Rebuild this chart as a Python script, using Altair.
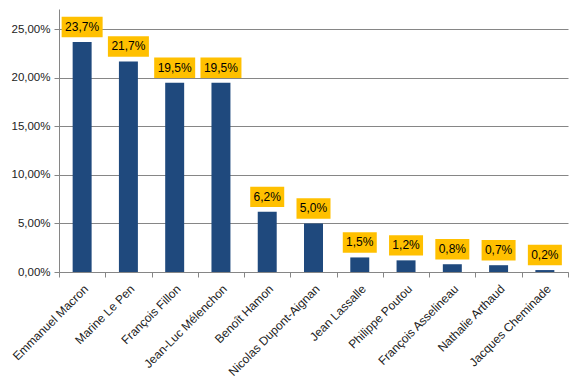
import altair as alt
import pandas as pd

candidates = ["Emmanuel Macron", "Marine Le Pen", "François Fillon", "Jean-Luc Mélenchon",
              "Benoît Hamon", "Nicolas Dupont-Aignan", "Jean Lassalle", "Philippe Poutou",
              "François Asselineau", "Nathalie Arthaud", "Jacques Cheminade"]
scores = [0.237, 0.217, 0.195, 0.195, 0.062, 0.050, 0.015, 0.012, 0.008, 0.007, 0.002]

df = pd.DataFrame({"name": candidates, "value": scores})

FONT = "Liberation Sans"
GRID = "#868686"

x = alt.X("name:N", sort=None, title=None,
          scale=alt.Scale(paddingInner=0, paddingOuter=0),
          axis=alt.Axis(labelAngle=-45, labelFont=FONT, labelFontSize=12, labelColor="#222",
                        tickBand="extent", tickSize=5, tickColor=GRID, domainColor=GRID,
                        labelPadding=6, labelLimit=300))
y = alt.Y("value:Q", title=None,
          scale=alt.Scale(domain=[0, 0.271], nice=False),
          axis=alt.Axis(values=[0, 0.05, 0.10, 0.15, 0.20, 0.25],
                        labelExpr="replace(format(datum.value, '.2%'), '.', ',')",
                        labelFont=FONT, labelFontSize=11.5, labelColor="#222",
                        gridColor=GRID, tickColor=GRID, domainColor=GRID, tickSize=5,
                        labelPadding=4))

base = alt.Chart(df)

bars = base.mark_bar(width=alt.RelativeBandSize(0.41), color="#1F497D").encode(x=x, y=y)

wide = "M-1,-0.5L1,-0.5L1,0.5L-1,0.5Z"
narrow = "M-1,-0.6L1,-0.6L1,0.6L-1,0.6Z"

boxes = base.transform_calculate(
    label="replace(format(datum.value, '.1%'), '.', ',')"
).mark_point(filled=True, fill="#FFC000", opacity=1, strokeWidth=0, yOffset=-15).encode(
    x=x, y=y,
    shape=alt.condition("length(datum.label) > 4", alt.value(wide), alt.value(narrow)),
    size=alt.condition("length(datum.label) > 4", alt.value(41 * 41), alt.value(34 * 34)),
)

labels = base.transform_calculate(
    label="replace(format(datum.value, '.1%'), '.', ',')"
).mark_text(font=FONT, fontSize=12, color="#000", yOffset=-15, baseline="middle").encode(
    x=x, y=y, text="label:N"
)

chart = alt.layer(bars, boxes, labels).properties(
    width=509, height=263,
    padding={"left": 51, "top": 1, "right": 4, "bottom": 108},
    autosize=alt.AutoSizeParams(type="none"),
).configure_view(stroke=None).configure_axisX(grid=False)

chart.save("out.html", embed_options={"renderer": "svg", "actions": False})
